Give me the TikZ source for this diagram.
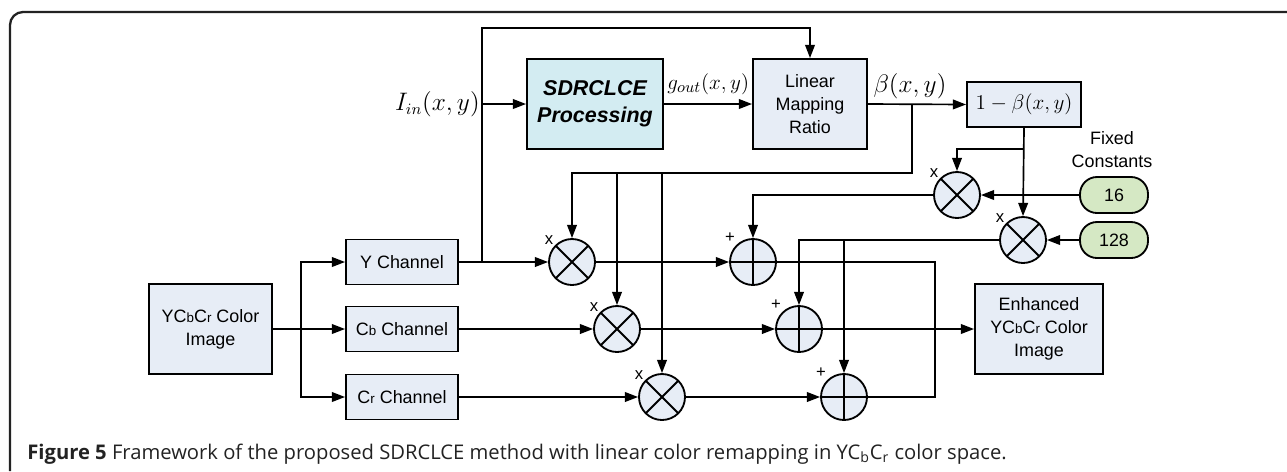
\documentclass[tikz,border=0pt]{standalone}
\usepackage{fontspec}
\setmainfont{Liberation Sans}
\newfontfamily\capfont{Open Sans}
\usetikzlibrary{arrows.meta}
\definecolor{boxfill}{RGB}{231,237,246}
\definecolor{cyanfill}{RGB}{211,236,242}
\definecolor{greenfill}{RGB}{213,232,196}
\definecolor{framecol}{RGB}{34,34,34}
\newcommand{\lowsub}[1]{{\fontsize{7.6}{9}\selectfont #1}}
\begin{document}
\begin{tikzpicture}[x=0.02cm,y=-0.02cm,
  boxtxt/.style={font=\fontsize{10.2}{13}\selectfont},
  blk/.style={draw=black, line width=1.1pt, fill=boxfill, inner sep=0pt, align=center, boxtxt},
  op/.style={circle, draw=black, line width=1.05pt, fill=boxfill, minimum size=0.92cm, inner sep=0pt},
  mult/.style={op, path picture={\draw[line width=1.05pt] (path picture bounding box.north west) -- (path picture bounding box.south east) (path picture bounding box.north east) -- (path picture bounding box.south west);}},
  adder/.style={op, path picture={\draw[line width=1.05pt] (path picture bounding box.north) -- (path picture bounding box.south) (path picture bounding box.east) -- (path picture bounding box.west);}},
  const/.style={draw=black, line width=1.05pt, fill=greenfill, rounded corners=0.34cm, minimum width=1.36cm, minimum height=0.72cm, inner sep=0pt, boxtxt},
  conn/.style={line width=0.95pt},
  arr/.style={conn, -{Triangle[length=7.5pt,width=5.5pt]}},
  oplab/.style={font=\fontsize{9.5}{10}\selectfont, inner sep=0pt},
  mlab/.style={font=\fontsize{13.5}{15}\selectfont, inner sep=0pt}
]
\useasboundingbox (0,0) rectangle (1287,471);
% frame
\draw[framecol, line width=1.3pt, rounded corners=0.26cm] (10,471) -- (10,12) -- (1287,12);

% blocks
\node[blk, minimum width=2.46cm, minimum height=1.8cm] (img) at (210.5,329) {YC\lowsub{b}C\lowsub{r} Color\\Image};
\node[blk, minimum width=2.24cm, minimum height=0.9cm] (ych) at (402,262) {Y Channel};
\node[blk, minimum width=2.24cm, minimum height=0.9cm] (cbch) at (402,329) {C\lowsub{b} Channel};
\node[blk, minimum width=2.24cm, minimum height=0.9cm] (crch) at (402,397) {C\lowsub{r} Channel};
\node[blk, fill=cyanfill, minimum width=2.72cm, minimum height=1.8cm, font=\fontsize{12.2}{15.4}\selectfont\bfseries\itshape] (sdr) at (595,104) {SDRCLCE\\Processing};
\node[blk, minimum width=2.28cm, minimum height=1.8cm] (lmr) at (810,104) {Linear\\Mapping\\Ratio};
\node[blk, minimum width=2.28cm, minimum height=0.9cm, font=\fontsize{12.8}{14}\selectfont] (omb) at (1024,104.5) {$1-\beta(x,y)$};
\node[blk, minimum width=2.56cm, minimum height=1.8cm] (enh) at (1039,329) {Enhanced\\YC\lowsub{b}C\lowsub{r} Color\\Image};

% constants
\node[boxtxt, align=center, inner sep=0pt] (fc) at (1112,150) {Fixed\\Constants};
\node[const] (c16) at (1114,195) {16};
\node[const] (c128) at (1114,240) {128};

% operators
\node[mult] (ymul) at (572,262) {};
\node[mult] (cbmul) at (617,329) {};
\node[mult] (crmul) at (662,397) {};
\node[mult] (m16) at (957,195) {};
\node[mult] (m128) at (1023,240) {};
\node[adder] (yadd) at (753,262) {};
\node[adder] (cbadd) at (799,329) {};
\node[adder] (cradd) at (844,397) {};

\foreach \n in {ymul,cbmul,crmul,m16,m128} {
  \node[oplab] at ([shift={(-23,-22)}]\n.center) {x};
}
\foreach \n in {yadd,cbadd,cradd} {
  \node[oplab] at ([shift={(-23,-24)}]\n.center) {+};
}

% math labels
\node[mlab, anchor=east] (iin) at (480,104) {$I_{in}(x,y)$};
\node[mlab, anchor=west, font=\fontsize{12.5}{14}\selectfont] (gout) at (667,84) {$g_{out}(x,y)$};
\node[mlab] (beta) at (910,86) {$\beta(x,y)$};

% coordinates
\coordinate (iinj) at (482,104);
\coordinate (yj) at (482,262);
\coordinate (topc) at (482,28);
\coordinate (bj) at (912,104);
\coordinate (bc) at (912,173);
\coordinate (b3) at (662,173);
\coordinate (b2) at (617,173);
\coordinate (oj) at (1023,149);
\coordinate (k) at (844,240);
\coordinate (o1) at (935,262);
\coordinate (o3) at (935,397);
\coordinate (s2) at (301,329);

% connectors
\draw[arr] (img.east) -- (cbch.west);
\draw[arr] (s2) |- (ych.west);
\draw[arr] (s2) |- (crch.west);

\draw[arr] (ych.east) -- (ymul.west);
\draw[arr] (cbch.east) -- (cbmul.west);
\draw[arr] (crch.east) -- (crmul.west);

\draw[arr] (yj) -- (topc) -| (lmr.north);
\draw[arr] (iinj) -- (sdr.west);
\draw[arr] (sdr.east) -- (lmr.west);
\draw[arr] (lmr.east) -- (omb.west);

\draw[arr] (bj) -- (bc) -- (b3) -- (b2) -| (ymul.north);
\draw[arr] (b2) -- (cbmul.north);
\draw[arr] (b3) -- (crmul.north);

\draw[arr] (omb.south) -- (m128.north);
\draw[arr] (oj) -| (m16.north);
\draw[arr] (c16.west) -- (m16.east);
\draw[arr] (c128.west) -- (m128.east);

\draw[arr] (m16.west) -| (yadd.north);
\draw[arr] (m128.west) -| (cbadd.north);
\draw[arr] (k) -- (cradd.north);

\draw[arr] (ymul.east) -- (yadd.west);
\draw[arr] (cbmul.east) -- (cbadd.west);
\draw[arr] (crmul.east) -- (cradd.west);

\draw[conn] (yadd.east) -- (o1) -- (o3) -- (cradd.east);
\draw[arr] (cbadd.east) -- (enh.west);

% caption
\node[anchor=base west, inner sep=0pt, font=\capfont\fontsize{11.5}{12}\selectfont, text=framecol] (cap) at (27,459) {\textbf{Figure 5} Framework of the proposed SDRCLCE method with linear color remapping in YC\textsubscript{b}C\textsubscript{r} color space.};
\end{tikzpicture}
\end{document}
